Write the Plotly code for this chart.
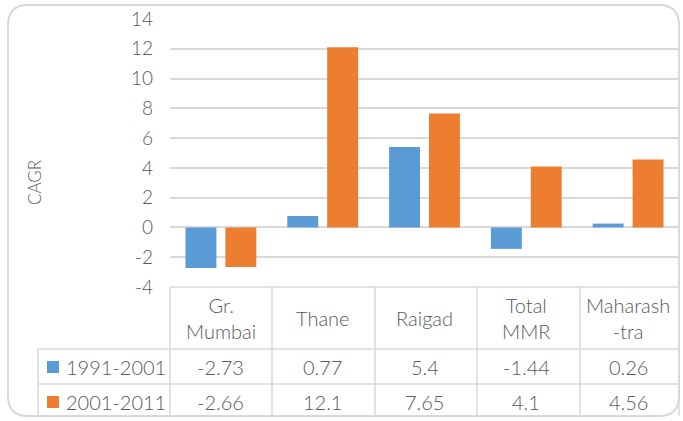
import plotly.graph_objects as go

categories = ["Gr.<br>Mumbai", "Thane", "Raigad", "Total<br>MMR", "Maharash<br>-tra"]
series_names = ["1991-2001", "2001-2011"]
cagr_1991_2001 = [-2.73, 0.77, 5.4, -1.44, 0.26]
cagr_2001_2011 = [-2.66, 12.1, 7.65, 4.1, 4.56]
table_1991_2001 = ["-2.73", "0.77", "5.4", "-1.44", "0.26"]
table_2001_2011 = ["-2.66", "12.1", "7.65", "4.1", "4.56"]
y_tickvals = [-4, -2, 0, 2, 4, 6, 8, 10, 12, 14]
y_ticktext = ["-4", "-2", "0", "2", "4", "6", "8", "10", "12", "14"]

W, H = 683, 421
BLUE = "#5B9BD5"
ORANGE = "#ED7D31"
GRID = "#D9D9D9"
TXT = "#595959"
FONT = "Lato"
WEIGHT = 300


def X(px):
    return px / W


def Y(py):
    return 1 - py / H


fig = go.Figure()
fig.add_trace(go.Bar(x=categories, y=cagr_1991_2001, name=series_names[0],
                     marker=dict(color=BLUE, line=dict(width=0))))
fig.add_trace(go.Bar(x=categories, y=cagr_2001_2011, name=series_names[1],
                     marker=dict(color=ORANGE, line=dict(width=0))))

shapes = []
# outer rounded border
x0, x1, y0, y1, r = 8, 679, 5, 416, 20
rx, ry = r / W, r / H
path = (f"M {X(x0)+rx},{Y(y0)} L {X(x1)-rx},{Y(y0)} Q {X(x1)},{Y(y0)} {X(x1)},{Y(y0)-ry} "
        f"L {X(x1)},{Y(y1)+ry} Q {X(x1)},{Y(y1)} {X(x1)-rx},{Y(y1)} "
        f"L {X(x0)+rx},{Y(y1)} Q {X(x0)},{Y(y1)} {X(x0)},{Y(y1)+ry} "
        f"L {X(x0)},{Y(y0)-ry} Q {X(x0)},{Y(y0)} {X(x0)+rx},{Y(y0)} Z")
shapes.append(dict(type="path", xref="paper", yref="paper", path=path,
                   line=dict(color=GRID, width=2), layer="below"))

# table lines
tl = dict(color=GRID, width=1.5)
top, hdr, mid, bot = 287, 349, 384, 416
left_leg, left_tab, right_tab = 38, 170, 679
col_edges = [170, 272, 375, 477, 580, 679]
shapes.append(dict(type="line", xref="paper", yref="paper", x0=X(left_tab), x1=X(right_tab), y0=Y(top), y1=Y(top), line=tl))
for yy in (hdr, mid):
    shapes.append(dict(type="line", xref="paper", yref="paper", x0=X(left_leg), x1=X(right_tab), y0=Y(yy), y1=Y(yy), line=tl))
shapes.append(dict(type="line", xref="paper", yref="paper", x0=X(left_leg), x1=X(left_leg), y0=Y(hdr), y1=Y(bot), line=tl))
for cx in col_edges:
    shapes.append(dict(type="line", xref="paper", yref="paper", x0=X(cx), x1=X(cx), y0=Y(top), y1=Y(bot), line=tl))

# legend keys
for yc, col in ((367, BLUE), (402, ORANGE)):
    shapes.append(dict(type="rect", xref="paper", yref="paper", x0=X(47), x1=X(59),
                       y0=Y(yc + 6), y1=Y(yc - 6), fillcolor=col, line=dict(width=0)))

annotations = []
fs = 20
tf = dict(size=fs, color=TXT, family=FONT, weight=WEIGHT)
for cat in categories:
    annotations.append(dict(x=cat, xref="x", y=Y(318), yref="paper", text=cat, showarrow=False,
                            font=tf, align="center", xanchor="center", yanchor="middle"))
for row_vals, yc in ((table_1991_2001, 367), (table_2001_2011, 402)):
    for cat, v in zip(categories, row_vals):
        annotations.append(dict(x=cat, xref="x", y=Y(yc), yref="paper", text=v, showarrow=False,
                                font=tf, xanchor="center", yanchor="middle"))
for name, yc in zip(series_names, (367, 402)):
    annotations.append(dict(x=X(64), xref="paper", y=Y(yc), yref="paper", text=name, showarrow=False,
                            font=tf, xanchor="left", yanchor="middle"))
annotations.append(dict(x=X(34), xref="paper", y=Y(182), yref="paper", text="CAGR", textangle=-90,
                        showarrow=False, font=dict(size=17, color=TXT, family=FONT, weight=WEIGHT),
                        xanchor="center", yanchor="middle"))

fig.update_layout(
    width=W, height=H,
    margin=dict(l=0, r=0, t=0, b=0, pad=0, autoexpand=False),
    paper_bgcolor="white", plot_bgcolor="white",
    showlegend=False,
    barmode="group", bargap=0.216, bargroupgap=0.225,
    xaxis=dict(domain=[X(170), X(679)], showticklabels=False, showgrid=False,
               zeroline=False, showline=False, ticks="", automargin=False),
    yaxis=dict(domain=[Y(287), Y(19)], range=[-4, 14],
               tickmode="array", tickvals=y_tickvals, ticktext=y_ticktext,
               showgrid=True, gridcolor=GRID, gridwidth=1.5,
               zeroline=True, zerolinecolor=GRID, zerolinewidth=1.5,
               showline=False, ticks="", ticklabelstandoff=16, automargin=False,
               tickfont=dict(size=19, color=TXT, family=FONT, weight=WEIGHT)),
    shapes=shapes, annotations=annotations,
    font=dict(family=FONT, color=TXT),
)

fig.write_html("out.html", config={"displayModeBar": False},
               post_script="document.body.style.margin='0';")
